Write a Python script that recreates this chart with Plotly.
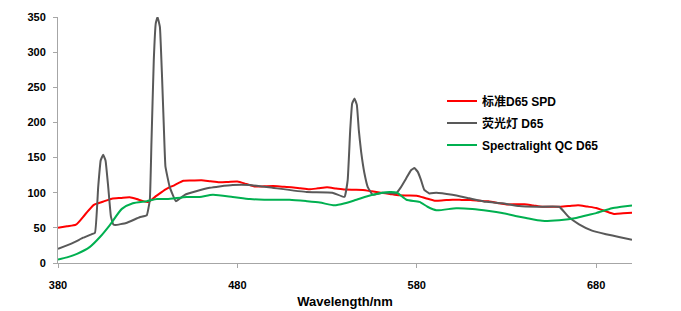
import plotly.graph_objects as go

# Standard D65 SPD
wl_red = list(range(380, 705, 5))
val_red = [50.0, 52.3, 54.6, 68.7, 82.8, 87.1, 91.5, 92.5, 93.4, 90.1, 86.7, 95.8, 104.9,
           110.9, 117.0, 117.4, 117.8, 116.3, 114.9, 115.4, 115.9, 112.4, 108.8, 109.1, 109.4,
           108.6, 107.8, 106.3, 104.8, 106.2, 107.7, 106.0, 104.4, 104.2, 104.0, 102.0, 100.0,
           98.2, 96.3, 96.1, 95.8, 92.2, 88.7, 89.3, 90.0, 89.8, 89.6, 88.6, 87.7, 85.5, 83.3,
           83.5, 83.7, 81.9, 80.0, 80.1, 80.2, 81.2, 82.3, 80.3, 78.3, 74.0, 69.7, 70.7, 71.6]

# Fluorescent lamp D65
wl_gray = [380, 385, 389.5, 394, 397.8, 400.6, 402.4, 403.8, 405.2, 406.5, 408, 409.5, 410.8,
           412, 418, 425.5, 429.5, 431.2, 432.1, 433.4, 434.5, 435.5, 436.8, 438, 439, 439.9,
           442.3, 445.7, 450.7, 457, 464.6, 470, 477.4, 487, 499.6, 518.6, 533, 539.7, 541.5,
           542.9, 544, 545.3, 546.6, 547.7, 549, 550.8, 552.7, 555.5, 560.9, 568.5, 571.2,
           574, 576.8, 578.7, 580.5, 582.4, 584.2, 587, 590.9, 599.8, 609.3, 618.7, 627.6,
           637.1, 646.6, 659.4, 664.9, 670.5, 677.7, 685.5, 692.7, 700]
val_gray = [20, 25, 30, 36, 40, 43, 108, 146, 154, 146, 108, 66, 55,
            54, 57, 65, 68, 90, 171, 289, 341, 350, 336, 265, 194, 137,
            108, 88, 97, 102, 107, 109, 111, 111, 107, 101, 100, 94, 118,
            189, 227, 234, 225, 189, 158, 128, 108, 97, 100, 99, 108,
            120, 132, 135, 130, 118, 104, 99, 100, 97, 92, 87, 85,
            81, 80, 80, 65, 55, 46, 41, 37, 33]

# Spectralight QC D65
wl_green = [380, 385, 390.6, 397.8, 403.4, 408.9, 415.6, 421.7, 429.5, 435.1, 440.7, 451.8,
            459, 466.3, 477.4, 487, 495, 509.1, 518.6, 526, 534.1, 540, 546.4, 555.3, 564.8,
            569, 574.2, 581.5, 586, 590.9, 602, 611, 620.4, 627.6, 635, 641, 649.9, 659.4,
            668.8, 675, 680, 688.8, 694, 700]
val_green = [5, 8, 13, 23, 37, 54, 77, 85, 88, 91, 91, 94,
             94, 97, 94, 91, 90, 90, 88, 86, 82, 85, 90, 97, 101,
             100, 90, 87, 80, 75, 78, 77, 74, 71, 67, 64, 60, 61,
             64, 68, 71, 78, 80, 82]

names = ["标准D65 SPD", "荧光灯 D65", "Spectralight QC D65"]
x_ticks = [380, 480, 580, 680]
y_ticks = [0, 50, 100, 150, 200, 250, 300, 350]

FONT = "Liberation Sans, Noto Sans CJK SC"

fig = go.Figure()
fig.add_trace(go.Scatter(x=wl_red, y=val_red, name=names[0], mode="lines", legendgroup="a",
                         line=dict(color="#FF0000", width=2, shape="spline", smoothing=0.6)))
fig.add_trace(go.Scatter(x=wl_gray, y=val_gray, name=names[1], mode="lines", legendgroup="b",
                         line=dict(color="#595959", width=2, shape="spline", smoothing=0.3)))
fig.add_trace(go.Scatter(x=wl_green, y=val_green, name=names[2], mode="lines", legendgroup="c",
                         line=dict(color="#00B050", width=2, shape="spline", smoothing=0.6)))

axis_common = dict(showgrid=False, zeroline=False, showline=True, linecolor="#A6A6A6",
                   linewidth=1, ticks="outside", ticklen=4, tickcolor="#A6A6A6",
                   automargin=False,
                   tickfont=dict(family=FONT, size=11, color="#000000", weight="bold"))

fig.update_layout(
    width=681, height=311,
    margin=dict(l=58, r=49, t=17, b=48),
    paper_bgcolor="white", plot_bgcolor="white",
    xaxis=dict(range=[380, 700], tickvals=x_ticks, ticktext=[str(v) for v in x_ticks],
               ticklabelstandoff=8,
               title=dict(text="Wavelength/nm", standoff=6,
                          font=dict(family=FONT, size=13, color="#000000", weight="bold")),
               **axis_common),
    yaxis=dict(range=[0, 350], tickvals=y_ticks, ticktext=[str(v) for v in y_ticks],
               ticklabelstandoff=5,
               **axis_common),
    legend=dict(x=0.669, y=0.717, xanchor="left", yanchor="top", bgcolor="rgba(0,0,0,0)",
                font=dict(family=FONT, size=12, color="#000000", weight="bold"),
                tracegroupgap=3),
    showlegend=True,
)

fig.write_html("out.html")
